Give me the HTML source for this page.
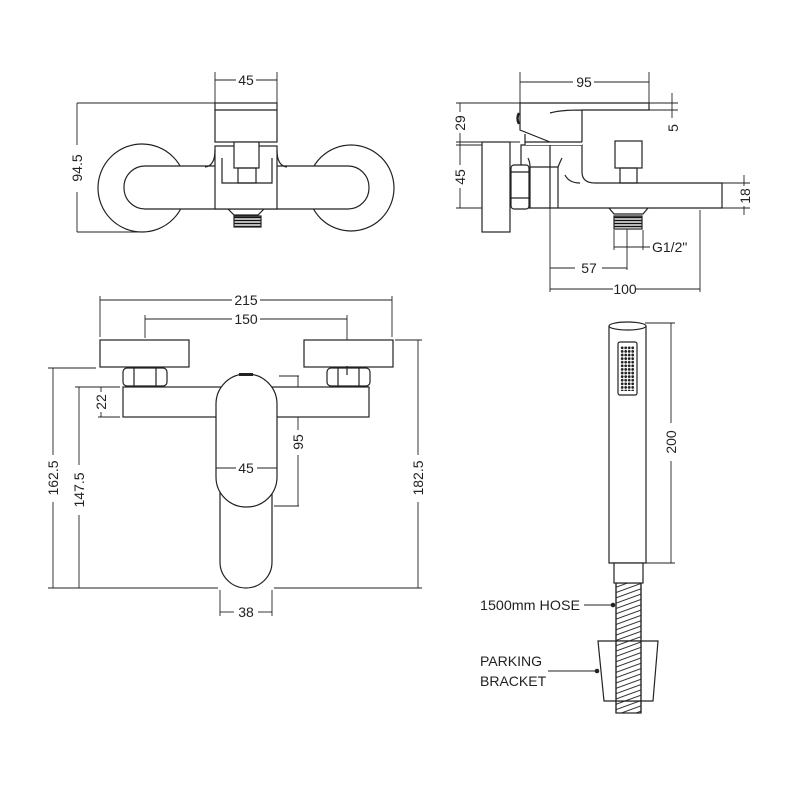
<!DOCTYPE html>
<html><head><meta charset="utf-8"><style>html,body{margin:0;padding:0;background:#fff}svg{display:block}</style></head><body>
<svg width="800" height="800" viewBox="0 0 800 800" xmlns="http://www.w3.org/2000/svg" font-family="Liberation Sans, sans-serif" font-size="14" fill="none" stroke="#222" stroke-width="1.2">
<defs>
<pattern id="thr" width="4" height="3" patternUnits="userSpaceOnUse"><rect width="4" height="3" fill="#fff" stroke="none"/><line x1="0" y1="1.5" x2="4" y2="1.5" stroke="#111" stroke-width="1.6"/></pattern>
<pattern id="hose" width="24" height="5" patternUnits="userSpaceOnUse" patternTransform="rotate(-20)"><rect width="24" height="5" fill="#fff" stroke="none"/><line x1="0" y1="2.5" x2="24" y2="2.5" stroke="#333" stroke-width="1"/></pattern>
<pattern id="dots" width="3.5" height="3.6" patternUnits="userSpaceOnUse" x="620.5" y="346"><circle cx="1.7" cy="1.8" r="0.8" fill="#222"/></pattern>
</defs>
<g stroke-width="0.9">
<line x1="215" y1="72" x2="215" y2="103"/><line x1="277" y1="72" x2="277" y2="103"/>
<line x1="215" y1="80" x2="236" y2="80"/><line x1="256" y1="80" x2="277" y2="80"/>
<line x1="77" y1="103" x2="215" y2="103"/><line x1="77" y1="232" x2="145" y2="232"/>
<line x1="77" y1="103" x2="77" y2="145"/><line x1="77" y1="192" x2="77" y2="232"/>
</g>
<g fill="#222" stroke="none">
<text x="246" y="85" text-anchor="middle">45</text>
<text transform="translate(82,168) rotate(-90)" text-anchor="middle">94.5</text>
</g>
<circle cx="142" cy="188" r="44" fill="#fff"/>
<circle cx="351" cy="188" r="43" fill="#fff"/>
<rect x="124" y="166" width="245" height="43" rx="21" fill="#fff"/>
<rect x="215" y="146" width="62" height="63" fill="#fff"/>
<path d="M215 150 Q215 166 205 167 M277 150 Q277 166 287 167" />
<path d="M222 158 V183 H272 V158"/>
<rect x="215" y="103" width="62" height="39" fill="#fff"/>
<line x1="215" y1="110" x2="277" y2="110"/>
<rect x="234" y="142" width="25" height="26" fill="#fff"/>
<rect x="238" y="168" width="18" height="15"/>
<path d="M228 209 L234 215 H258 L264 209"/>
<rect x="234" y="216" width="27" height="11" fill="url(#thr)"/>

<g stroke-width="0.9">
<line x1="520" y1="72" x2="520" y2="103"/><line x1="649" y1="72" x2="649" y2="103"/>
<line x1="520" y1="82" x2="573" y2="82"/><line x1="594" y1="82" x2="649" y2="82"/>
<line x1="456" y1="103" x2="520" y2="103"/><line x1="456" y1="142" x2="520" y2="142"/>
<line x1="456" y1="145" x2="482" y2="145"/><line x1="456" y1="208" x2="482" y2="208"/>
<line x1="460" y1="103" x2="460" y2="112"/><line x1="460" y1="133" x2="460" y2="145"/>
<line x1="460" y1="145" x2="460" y2="165"/><line x1="460" y1="188" x2="460" y2="208"/>
<line x1="649" y1="103" x2="678" y2="103"/><line x1="649" y1="110" x2="678" y2="110"/>
<line x1="672" y1="93" x2="672" y2="118"/>
<line x1="722" y1="183" x2="750" y2="183"/><line x1="722" y1="208" x2="750" y2="208"/>
<line x1="744" y1="175" x2="744" y2="186"/><line x1="744" y1="206" x2="744" y2="215"/>
<line x1="550" y1="145" x2="550" y2="292"/><line x1="700" y1="210" x2="700" y2="292"/>
<line x1="627" y1="228" x2="627" y2="270"/>
<line x1="614" y1="230" x2="614" y2="250"/><line x1="643" y1="230" x2="643" y2="250"/>
<line x1="614" y1="247" x2="650" y2="247"/>
<line x1="550" y1="268" x2="575" y2="268"/><line x1="602" y1="268" x2="627" y2="268"/>
<line x1="550" y1="289" x2="613" y2="289"/><line x1="636" y1="289" x2="700" y2="289"/>
</g>
<g fill="#222" stroke="none">
<text x="584" y="87" text-anchor="middle">95</text>
<text transform="translate(465,123) rotate(-90)" text-anchor="middle">29</text>
<text transform="translate(465,177) rotate(-90)" text-anchor="middle">45</text>
<text transform="translate(678,128) rotate(-90)" text-anchor="middle">5</text>
<text transform="translate(750,196) rotate(-90)" text-anchor="middle">18</text>
<text x="652" y="252">G1/2"</text>
<text x="589" y="273" text-anchor="middle">57</text>
<text x="625" y="294" text-anchor="middle">100</text>
</g>
<rect x="482" y="142" width="28" height="90" fill="#fff"/>
<!-- body -->
<path d="M521 145 H582 V172 Q582 183 595 183 H722 V208 H521 Z" fill="#fff"/>
<line x1="550" y1="145" x2="550" y2="208"/>
<path d="M530 208 V167 H558 V208"/>
<path d="M528 158 Q530 162 530 167 M558 167 Q560 162 562 158"/>
<path d="M565 175 Q569 183 580 183"/>
<rect x="511" y="165" width="18" height="44" rx="3" fill="#fff"/>
<line x1="511" y1="172" x2="529" y2="172"/><line x1="511" y1="198" x2="529" y2="198"/>
<!-- lever -->
<path d="M520 103 H649 V110 H582 V145 H525 V130 Z" fill="#fff" stroke="none"/>
<path d="M520 103 H649 V110 H582 V142 M520 103 V130 L550 142 M582 142 H525 M582 110 Q560 110 550 113"/>
<path d="M525 134 V145"/>
<path d="M519 113 Q516 118 519 124" stroke-width="2.5"/>
<rect x="615" y="141" width="27" height="27" fill="#fff"/>
<rect x="620" y="168" width="17" height="15"/>
<path d="M609 208 L614 214 H643 L648 208"/>
<rect x="614" y="216" width="28" height="13" fill="url(#thr)"/>

<g stroke-width="0.9">
<line x1="100" y1="296" x2="100" y2="337"/><line x1="392" y1="296" x2="392" y2="337"/>
<line x1="100" y1="300" x2="232" y2="300"/><line x1="260" y1="300" x2="392" y2="300"/>
<line x1="145" y1="315" x2="145" y2="338"/><line x1="347" y1="315" x2="347" y2="365"/>
<line x1="145" y1="319" x2="232" y2="319"/><line x1="260" y1="319" x2="347" y2="319"/>
<line x1="48" y1="368" x2="96" y2="368"/>
<line x1="53" y1="368" x2="53" y2="455"/><line x1="53" y1="502" x2="53" y2="588"/>
<line x1="75" y1="387" x2="120" y2="387"/>
<line x1="79" y1="387" x2="79" y2="465"/><line x1="79" y1="515" x2="79" y2="588"/>
<line x1="98" y1="417" x2="120" y2="417"/>
<line x1="101" y1="387" x2="101" y2="392"/><line x1="101" y1="412" x2="101" y2="417"/>
<line x1="279" y1="376" x2="299" y2="376"/><line x1="274" y1="506" x2="299" y2="506"/>
<line x1="298" y1="376" x2="298" y2="430"/><line x1="298" y1="455" x2="298" y2="506"/>
<line x1="395" y1="340" x2="422" y2="340"/>
<line x1="418" y1="340" x2="418" y2="455"/><line x1="418" y1="502" x2="418" y2="588"/>
<line x1="48" y1="588" x2="218" y2="588"/><line x1="274" y1="588" x2="422" y2="588"/>
<line x1="220" y1="590" x2="220" y2="616"/><line x1="272" y1="590" x2="272" y2="616"/>
<line x1="220" y1="612" x2="234" y2="612"/><line x1="258" y1="612" x2="272" y2="612"/>
</g>
<g fill="#222" stroke="none">
<text x="246" y="305" text-anchor="middle">215</text>
<text x="246" y="324" text-anchor="middle">150</text>
<text transform="translate(58,478) rotate(-90)" text-anchor="middle">162.5</text>
<text transform="translate(84,490) rotate(-90)" text-anchor="middle">147.5</text>
<text transform="translate(106,402) rotate(-90)" text-anchor="middle">22</text>
<text transform="translate(303,442) rotate(-90)" text-anchor="middle">95</text>
<text transform="translate(423,478) rotate(-90)" text-anchor="middle">182.5</text>
<text x="246" y="617" text-anchor="middle">38</text>
</g>
<rect x="100" y="340" width="89" height="27" fill="#fff"/>
<rect x="304" y="340" width="89" height="27" fill="#fff"/>
<rect x="123" y="368" width="44" height="18" rx="4" fill="#fff"/>
<line x1="134" y1="368" x2="134" y2="386"/><line x1="156" y1="368" x2="156" y2="386"/>
<rect x="327" y="368" width="43" height="18" rx="4" fill="#fff"/>
<line x1="338" y1="368" x2="338" y2="386"/><line x1="359" y1="368" x2="359" y2="386"/>
<line x1="347" y1="366" x2="347" y2="375"/>
<rect x="123" y="387" width="246" height="30" fill="#fff"/>
<rect x="220" y="440" width="52" height="148" rx="26" fill="#fff"/>
<rect x="216" y="374" width="61" height="133" rx="30" fill="#fff"/>
<rect x="239" y="373" width="14" height="3" fill="#222" stroke="none"/>
<g stroke-width="0.9"><line x1="216" y1="468" x2="236" y2="468"/><line x1="257" y1="468" x2="277" y2="468"/></g>
<text x="246" y="473" text-anchor="middle" fill="#222" stroke="none">45</text>

<g stroke-width="0.9">
<line x1="645" y1="323" x2="675" y2="323"/><line x1="645" y1="563" x2="675" y2="563"/>
<line x1="671" y1="323" x2="671" y2="423"/><line x1="671" y1="461" x2="671" y2="563"/>
<line x1="584" y1="605" x2="612" y2="605"/>
<line x1="548" y1="671" x2="597" y2="671"/>
</g>
<g fill="#222" stroke="none">
<text transform="translate(676,442) rotate(-90)" text-anchor="middle">200</text>
<text x="480" y="610" textLength="100" lengthAdjust="spacingAndGlyphs">1500mm HOSE</text>
<text x="480" y="666">PARKING</text>
<text x="480" y="686">BRACKET</text>
<circle cx="613" cy="605" r="2.3"/><circle cx="597" cy="671" r="2.3"/>
</g>
<rect x="616" y="583" width="25" height="130" fill="url(#hose)"/>
<line x1="616" y1="583" x2="616" y2="713"/><line x1="641" y1="583" x2="641" y2="713"/>
<path d="M598 641 H658 L653 701 H604 Z" fill="#fff"/>
<rect x="616" y="641" width="25" height="60" fill="url(#hose)"/>
<line x1="616" y1="641" x2="616" y2="701"/><line x1="641" y1="641" x2="641" y2="701"/>
<path d="M609 326 V563 H646 V326" fill="#fff"/>
<ellipse cx="627.5" cy="326" rx="18.5" ry="4" fill="#fff"/>
<rect x="614" y="563" width="29" height="20" fill="#fff"/>
<rect x="618" y="342" width="19" height="53" rx="2" fill="#fff"/>
<rect x="620.5" y="346" width="14" height="45" fill="url(#dots)" stroke="none"/>
</svg>
</body></html>
